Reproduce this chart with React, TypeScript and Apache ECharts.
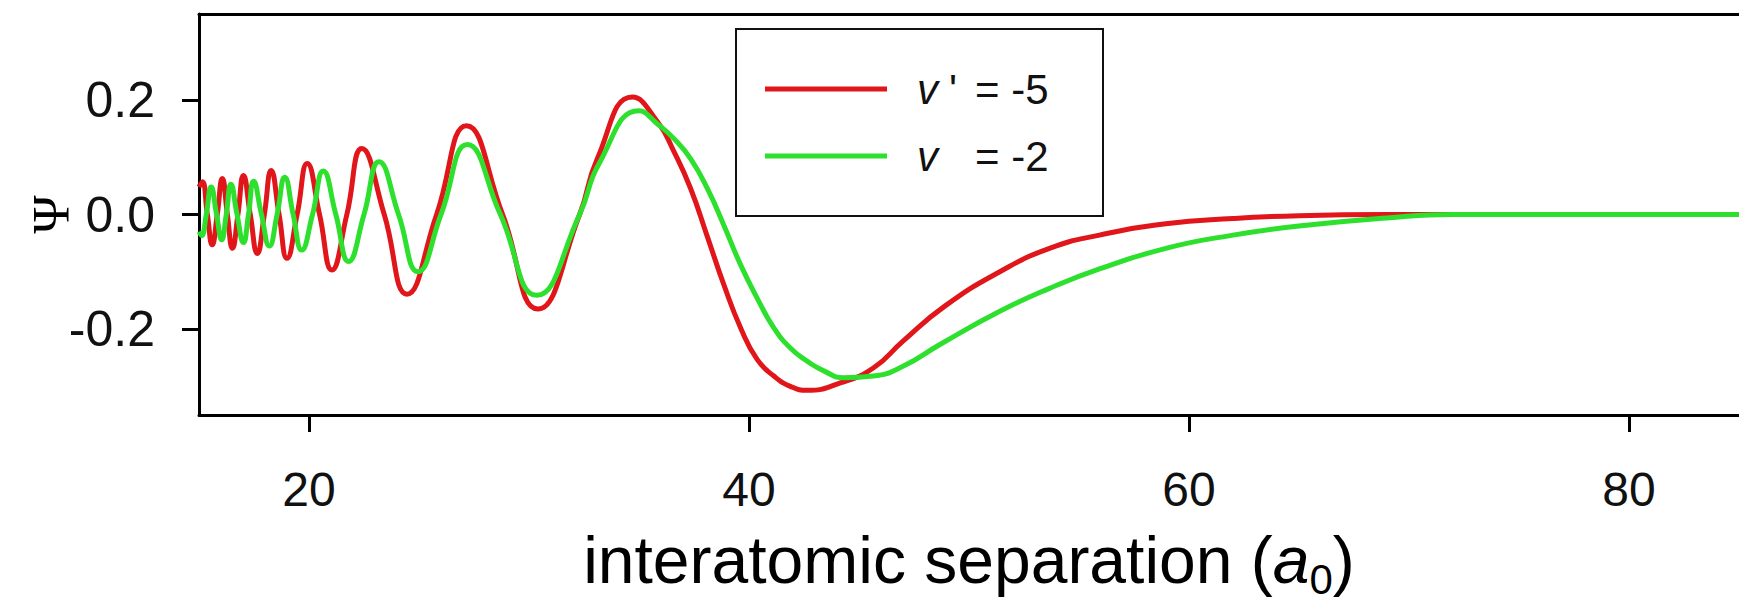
import React, { useEffect, useRef } from 'react';
import * as echarts from 'echarts';

// v' = -5 (red)
const redR = [15.0, 15.15, 15.38, 15.6, 15.83, 16.06, 16.29, 16.52, 16.77, 17.02, 17.33, 17.65, 17.97, 18.28, 18.64, 19.0, 19.46, 19.92, 20.48, 21.04, 21.72, 22.4, 23.42, 24.45, 25.8, 27.16, 28.8, 30.4, 32.3, 33.1, 34.7, 35.84, 36.6, 37.35, 38.11, 38.86, 39.62, 40.37, 41.13, 41.88, 42.64, 44.15, 45.65, 47.0, 48.9, 51.4, 53.66, 55.93, 58.95, 62.0, 65.0, 69.0, 75.0, 85.0];
const redPsi = [0.048, 0.057, 0, -0.053, 0, 0.063, 0, -0.059, 0, 0.068, 0, -0.068, 0, 0.077, 0, -0.0765, 0, 0.089, 0, -0.097, 0, 0.115, 0, -0.139, 0, 0.155, 0, -0.165, 0, 0.097, 0.205, 0.162, 0.109, 0.045, -0.039, -0.123, -0.198, -0.253, -0.282, -0.3, -0.307, -0.294, -0.268, -0.221, -0.16, -0.1, -0.059, -0.036, -0.016, -0.007, -0.002, 0, 0, 0];

// v = -2 (green)
const greenR = [15.0, 15.12, 15.33, 15.55, 15.8, 16.03, 16.24, 16.45, 16.73, 17.02, 17.25, 17.48, 17.84, 18.2, 18.55, 18.9, 19.28, 19.67, 20.16, 20.65, 21.22, 21.8, 22.5, 23.18, 24.07, 24.95, 26.0, 27.2, 28.7, 30.35, 32.3, 33.2, 35.0, 35.84, 36.6, 37.35, 38.11, 38.86, 39.62, 40.37, 41.13, 41.88, 42.64, 43.4, 44.3, 45.65, 47.0, 48.68, 51.4, 53.66, 55.93, 58.95, 62.0, 65.0, 69.0, 72.0, 85.0];
const greenPsi = [-0.03, -0.037, 0, 0.048, 0, -0.044, 0, 0.053, 0, -0.049, 0, 0.058, 0, -0.055, 0, 0.065, 0, -0.062, 0, 0.076, 0, -0.082, 0, 0.092, 0, -0.1, 0, 0.122, 0, -0.141, 0, 0.09, 0.181, 0.158, 0.132, 0.097, 0.045, -0.019, -0.088, -0.146, -0.198, -0.233, -0.256, -0.273, -0.285, -0.282, -0.265, -0.227, -0.169, -0.129, -0.095, -0.059, -0.036, -0.02, -0.006, 0, 0];

const xTicks = [20, 40, 60, 80];
const yTicks = [-0.2, 0, 0.2];
const seriesNames = ["v' = -5", 'v = -2'];
const legendPrime = ["'", ' '];
const legendValue = ['-5', '-2'];
const seriesColors = ['#e0161a', '#2ee02e'];

const SANS = '"Liberation Sans", Arial, Helvetica, sans-serif';
const SERIF = '"Liberation Serif", "Times New Roman", serif';

export default function App() {
  const ref = useRef<HTMLDivElement>(null);

  useEffect(() => {
    const chart = echarts.init(ref.current as HTMLDivElement, null, { renderer: 'svg' });
    const zip = (xs: number[], ys: number[]) => xs.map((x, i) => [x, ys[i]]);

    const option: any = {
      animation: false,
      backgroundColor: '#ffffff',
      grid: { left: 199, right: 0, top: 14, bottom: 186, containLabel: false, outerBoundsMode: 'none' },
      legend: {
        orient: 'vertical',
        left: 736,
        top: 29,
        padding: [39, 38, 39, 29],
        itemGap: 25,
        itemWidth: 122,
        itemHeight: 5,
        icon: 'rect',
        borderColor: '#111',
        borderWidth: 2,
        backgroundColor: '#ffffff',
        selectedMode: false,
        data: seriesNames,
        formatter: (name: string) => {
          const i = seriesNames.indexOf(name);
          return `{v|v}{a|${legendPrime[i]}}{e|= ${legendValue[i]}}`;
        },
        textStyle: {
          fontFamily: SANS,
          fontSize: 42,
          color: '#111',
          lineHeight: 40,
          rich: {
            v: { fontFamily: SANS, fontSize: 42, fontStyle: 'italic', width: 26, color: '#111', padding: [0, 0, 0, 25] },
            a: { fontFamily: SANS, fontSize: 42, width: 26, color: '#111', padding: [0, 0, 0, 6] },
            e: { fontFamily: SANS, fontSize: 42, width: 90, color: '#111' },
          },
        },
      },
      xAxis: [
        {
          type: 'value',
          min: 15,
          max: 85,
          position: 'bottom',
          axisLine: { show: true, onZero: false, lineStyle: { color: '#000', width: 3 } },
          axisTick: { show: true, length: 17, customValues: xTicks, lineStyle: { color: '#000', width: 3 } },
          axisLabel: { customValues: xTicks, margin: 50, fontSize: 48, lineHeight: 48, fontFamily: SANS, color: '#111' },
          splitLine: { show: false },
          name: '{n|interatomic separation (}{i|a}{s|0}{n|)}',
          nameLocation: 'middle',
          nameGap: 105,
          nameMoveOverlap: false,
          nameTextStyle: {
            fontFamily: SANS,
            fontSize: 66,
            color: '#000',
            rich: {
              n: { fontFamily: SANS, fontSize: 66, lineHeight: 80, color: '#000' },
              i: { fontFamily: SANS, fontSize: 66, lineHeight: 80, fontStyle: 'italic', color: '#000' },
              s: { fontFamily: SANS, fontSize: 42, lineHeight: 42, verticalAlign: 'bottom', color: '#000' },
            },
          },
        },
        {
          type: 'value',
          min: 15,
          max: 85,
          position: 'top',
          axisLine: { show: true, onZero: false, lineStyle: { color: '#000', width: 3 } },
          axisTick: { show: false },
          axisLabel: { show: false },
          splitLine: { show: false },
        },
      ],
      yAxis: {
        type: 'value',
        min: -0.35,
        max: 0.35,
        axisLine: { show: true, onZero: false, lineStyle: { color: '#000', width: 3 } },
        axisTick: { show: true, length: 17, customValues: yTicks, lineStyle: { color: '#000', width: 3 } },
        axisLabel: {
          customValues: yTicks,
          margin: 44,
          fontSize: 50,
          fontFamily: SANS,
          color: '#111',
          formatter: (v: number) => v.toFixed(1),
        },
        splitLine: { show: false },
        name: 'Ψ',
        nameLocation: 'middle',
        nameGap: 122,
        nameMoveOverlap: false,
        nameTextStyle: { fontFamily: SERIF, fontSize: 52, color: '#000' },
      },
      series: [
        {
          name: seriesNames[0],
          type: 'line',
          xAxisIndex: 0,
          data: zip(redR, redPsi),
          smooth: 0.5,
          symbol: 'none',
          showSymbol: false,
          color: seriesColors[0],
          lineStyle: { color: seriesColors[0], width: 5 },
          z: 2,
        },
        {
          name: seriesNames[1],
          type: 'line',
          xAxisIndex: 0,
          data: zip(greenR, greenPsi),
          smooth: 0.5,
          symbol: 'none',
          showSymbol: false,
          color: seriesColors[1],
          lineStyle: { color: seriesColors[1], width: 5 },
          z: 3,
        },
      ],
    };

    chart.setOption(option);
    return () => chart.dispose();
  }, []);

  return (
    <div
      ref={ref}
      style={{ position: 'fixed', left: 0, top: 0, width: 1739, height: 601, background: '#ffffff' }}
    />
  );
}
